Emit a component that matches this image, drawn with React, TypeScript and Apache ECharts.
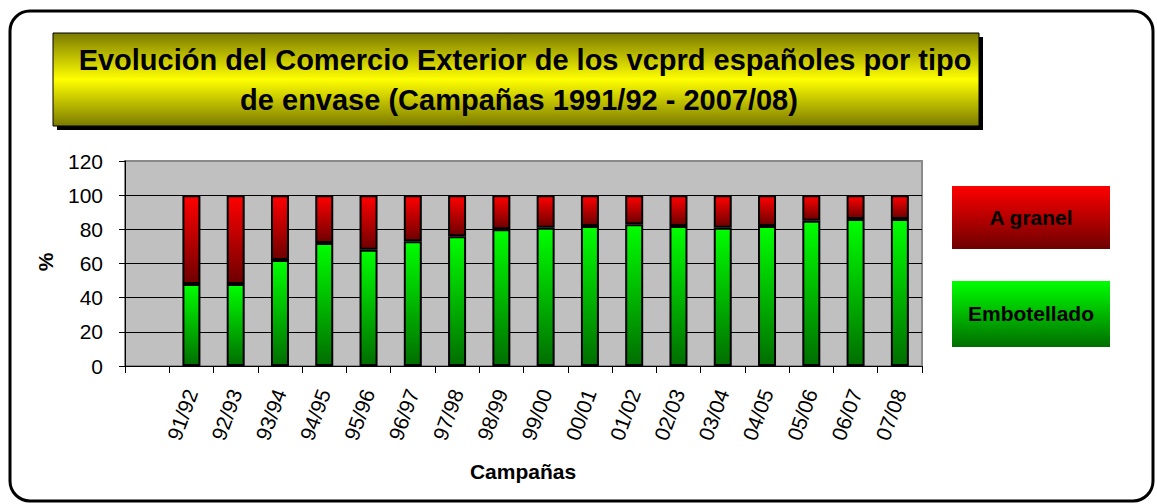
import React, { useEffect, useRef } from "react";
import * as echarts from "echarts";

const categories = ["", "91/92", "92/93", "93/94", "94/95", "95/96", "96/97", "97/98", "98/99", "99/00", "00/01", "01/02", "02/03", "03/04", "04/05", "05/06", "06/07", "07/08"];
const embotellado = [null, 48, 48, 62, 72, 68, 73, 76, 80, 81, 82, 83, 82, 81, 82, 85, 86, 86];
const aGranel = [null, 52, 52, 38, 28, 32, 27, 24, 20, 19, 18, 17, 18, 19, 18, 15, 14, 14];
const yTicks = { min: 0, max: 120, interval: 20 };
const titleLine1 = "Evolución del Comercio Exterior de los vcprd españoles por tipo";
const titleLine2 = "de envase (Campañas 1991/92 - 2007/08)";
const seriesNames = ["Embotellado", "A granel"];
const xName = "Campañas";
const yName = "%";

const FONT = "'Liberation Sans', Arial, sans-serif";

const grad = (c1: string, c2: string) => ({
  type: "linear", x: 0, y: 0, x2: 0, y2: 1,
  colorStops: [{ offset: 0, color: c1 }, { offset: 1, color: c2 }],
});

export default function App() {
  const ref = useRef<HTMLDivElement>(null);
  useEffect(() => {
    const chart = echarts.init(ref.current!, null, { renderer: "svg" });
    const green = grad("#00ff00", "#006e00");
    const red = grad("#ff0000", "#6e0000");
    chart.setOption({
      animation: false,
      backgroundColor: "#ffffff",
      grid: {
        left: 125, right: 235, top: 161, bottom: 138,
        show: true, backgroundColor: "#c0c0c0", borderColor: "#8a8a8a", borderWidth: 2,
      },
      xAxis: {
        type: "category",
        data: categories,
        boundaryGap: true,
        axisLine: { show: true, lineStyle: { color: "#000", width: 1 } },
        axisTick: { show: true, length: 7, interval: 0, lineStyle: { color: "#000" } },
        axisLabel: { interval: 0, rotate: 70, margin: 24, fontSize: 21, color: "#000", fontFamily: FONT },
      },
      yAxis: {
        type: "value",
        min: yTicks.min, max: yTicks.max, interval: yTicks.interval,
        axisLine: { show: true, lineStyle: { color: "#000", width: 1 } },
        axisTick: { show: true, length: 6, lineStyle: { color: "#000" } },
        axisLabel: { margin: 22, fontSize: 21, color: "#000", fontFamily: FONT },
        splitLine: { show: true, showMaxLine: false, lineStyle: { color: "#000", width: 1 } },
      },
      series: [
        {
          name: seriesNames[0], type: "bar", stack: "total", data: embotellado, barWidth: 18,
          itemStyle: { color: green, borderColor: "#000", borderWidth: 2 },
        },
        {
          name: seriesNames[1], type: "bar", stack: "total", data: aGranel, barWidth: 18,
          itemStyle: { color: red, borderColor: "#000", borderWidth: 2 },
        },
      ],
      graphic: [
        { type: "rect", shape: { x: 10, y: 11, width: 1143, height: 490, r: 20 }, style: { fill: "none", stroke: "#000", lineWidth: 3 }, z: 10 },
        { type: "rect", shape: { x: 57, y: 37, width: 926, height: 93 }, style: { fill: "#000" }, z: 10 },
        {
          type: "rect", shape: { x: 53, y: 33, width: 926, height: 93 },
          style: {
            fill: { type: "linear", x: 0, y: 0, x2: 0, y2: 1, colorStops: [
              { offset: 0, color: "#7a7a00" }, { offset: 0.5, color: "#ffff00" }, { offset: 1, color: "#7a7a00" }] },
            stroke: "#000", lineWidth: 1,
          }, z: 11,
        },
        { type: "text", x: 525, y: 60, style: { text: titleLine1, fontSize: 29, fontWeight: "bold", fontFamily: FONT, fill: "#000", align: "center", verticalAlign: "middle" }, z: 12 },
        { type: "text", x: 519, y: 100, style: { text: titleLine2, fontSize: 29, fontWeight: "bold", fontFamily: FONT, fill: "#000", align: "center", verticalAlign: "middle" }, z: 12 },
        { type: "rect", shape: { x: 952, y: 186, width: 158, height: 63 }, style: { fill: red }, z: 11 },
        { type: "text", x: 1031, y: 217, style: { text: seriesNames[1], fontSize: 21, fontWeight: "bold", fontFamily: FONT, fill: "#000", align: "center", verticalAlign: "middle" }, z: 12 },
        { type: "rect", shape: { x: 952, y: 281, width: 158, height: 66 }, style: { fill: green }, z: 11 },
        { type: "text", x: 1031, y: 313, style: { text: seriesNames[0], fontSize: 21, fontWeight: "bold", fontFamily: FONT, fill: "#000", align: "center", verticalAlign: "middle" }, z: 12 },
        { type: "text", x: 523, y: 471, style: { text: xName, fontSize: 21, fontWeight: "bold", fontFamily: FONT, fill: "#000", align: "center", verticalAlign: "middle" }, z: 12 },
        { type: "text", x: 45, y: 262, rotation: Math.PI / 2, style: { text: yName, fontSize: 21, fontWeight: "bold", fontFamily: FONT, fill: "#000", align: "center", verticalAlign: "middle" }, z: 12 },
      ],
    });
    return () => chart.dispose();
  }, []);
  return <div ref={ref} style={{ position: "fixed", left: 0, top: 0, width: 1157, height: 504 }} />;
}
